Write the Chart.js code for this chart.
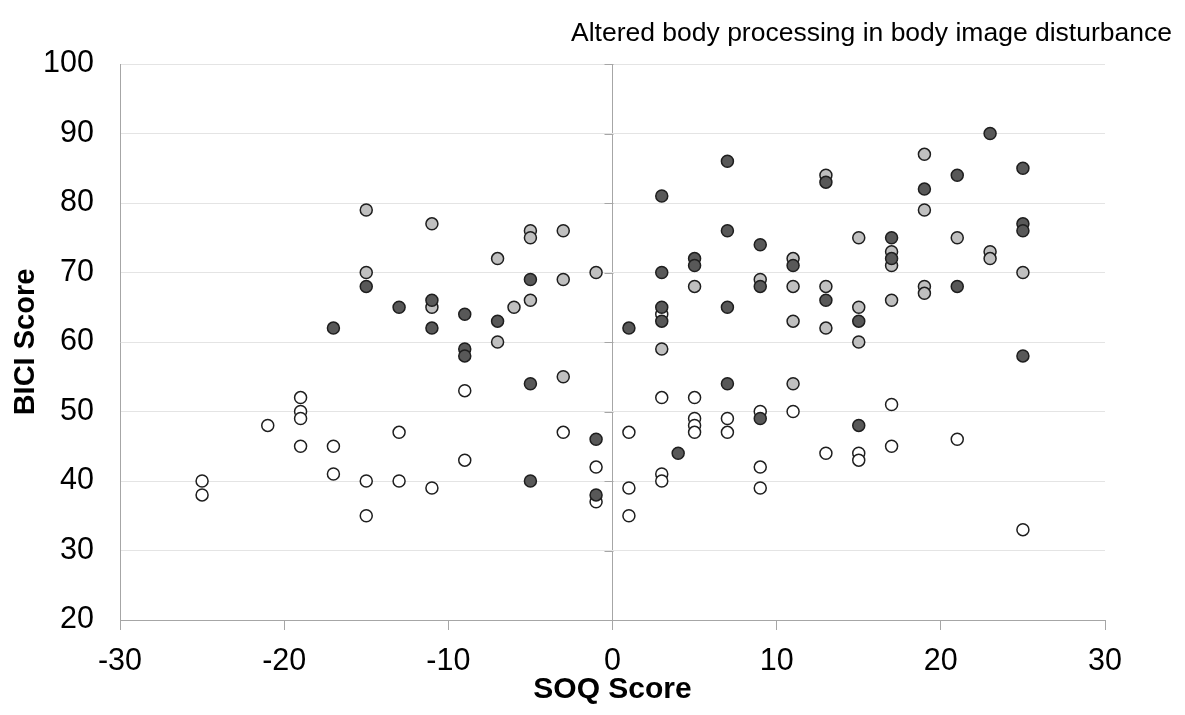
<!DOCTYPE html>
<html>
<head>
<meta charset="utf-8">
<script src="https://cdn.jsdelivr.net/npm/chart.js@4/dist/chart.umd.min.js"></script>
<style>
  html, body { margin: 0; padding: 0; background: #fff; }
  #wrap { width: 1185px; height: 715px; }
</style>
</head>
<body>
<div id="wrap"><canvas id="c" width="1185" height="715"></canvas></div>
<script>
// SOQ score (x) vs BICI score (y), three participant groups
const openX  = [-25,-25,-21,-19,-19,-19,-19,-17,-17,-15,-15,-13,-13,-11,-9,-9,-3,-1,-1,1,1,1,3,3,3,3,5,5,5,5,7,7,9,9,9,11,13,15,15,17,17,21,25];
const openY  = [40,38,48,52,50,49,45,45,41,40,35,47,40,39,53,43,47,42,37,47,39,35,64,52,41,40,52,49,48,47,49,47,50,42,39,50,44,44,43,51,45,46,33];

const lightX = [-15,-15,-11,-11,-7,-7,-6,-5,-5,-5,-3,-3,-3,-1,3,5,9,11,11,11,11,13,13,13,15,15,15,17,17,17,19,19,19,19,21,23,23,25];
const lightY = [79,70,77,65,72,60,65,76,75,66,76,69,55,70,59,68,69,72,68,63,54,84,68,62,75,65,60,73,71,66,87,79,68,67,75,73,72,70];

const darkX  = [-17,-15,-13,-11,-11,-9,-9,-9,-7,-5,-5,-5,-1,-1,1,3,3,3,3,4,5,5,7,7,7,7,9,9,9,11,13,13,15,15,17,17,19,21,21,23,25,25,25,25];
const darkY  = [62,68,65,66,62,64,59,58,63,69,54,40,46,38,62,81,70,65,63,44,72,71,86,76,65,54,74,68,49,71,83,66,63,48,75,72,82,84,68,90,85,77,76,58];

const xTicks = [-30,-20,-10,0,10,20,30];
const yTicks = [20,30,40,50,60,70,80,90,100];

const chartTitle = 'Altered body processing in body image disturbance';
const xTitle = 'SOQ Score';
const yTitle = 'BICI Score';

const FONT = '"Liberation Sans", Arial, Helvetica, sans-serif';
const AXIS_GREY = '#a6a6a6';

function pts(xs, ys) { return xs.map((x, i) => ({ x: x, y: ys[i] })); }

// small tick marks on the vertical axis that crosses at x = 0, plus the heading
const extras = {
  id: 'extras',
  afterDatasetsDraw(chart) {
    const { ctx, scales: { x, y } } = chart;
    const x0 = Math.round(x.getPixelForValue(0)) + 0.5;
    ctx.save();
    ctx.strokeStyle = AXIS_GREY;
    ctx.lineWidth = 1;
    ctx.beginPath();
    yTicks.forEach(v => {
      const py = Math.round(y.getPixelForValue(v)) + 0.5;
      ctx.moveTo(x0 - 9, py);
      ctx.lineTo(x0, py);
    });
    ctx.stroke();
    ctx.restore();
  },
  afterDraw(chart) {
    const { ctx } = chart;
    ctx.save();
    ctx.fillStyle = '#000';
    ctx.font = '26.5px ' + FONT;
    ctx.textAlign = 'right';
    ctx.textBaseline = 'middle';
    ctx.fillText(chartTitle, 1172, 34);
    ctx.restore();
  }
};

const common = { pointRadius: 6, pointHoverRadius: 6, borderWidth: 1.5, borderColor: '#1e1e1e', showLine: false };

// datasets listed first are painted last (on top)
new Chart(document.getElementById('c'), {
  type: 'scatter',
  data: {
    datasets: [
      Object.assign({ label: 'dark', data: pts(darkX, darkY), backgroundColor: '#585858' }, common),
      Object.assign({ label: 'light', data: pts(lightX, lightY), backgroundColor: '#c0c0c0' }, common),
      Object.assign({ label: 'open', data: pts(openX, openY), backgroundColor: '#ffffff' }, common)
    ]
  },
  options: {
    responsive: false,
    animation: false,
    layout: { padding: { left: 0, right: 80, top: 64, bottom: 0 } },
    plugins: { legend: { display: false }, tooltip: { enabled: false }, title: { display: false } },
    scales: {
      x: {
        type: 'linear',
        min: -30, max: 30,
        afterBuildTicks(scale) { scale.ticks = xTicks.map(v => ({ value: v })); },
        afterFit(scale) { scale.height = 95; },
        border: { display: true, color: AXIS_GREY, width: 1 },
        grid: {
          color: ctx => (ctx.tick && ctx.tick.value === 0) ? AXIS_GREY : 'rgba(0,0,0,0)',
          tickColor: AXIS_GREY,
          tickLength: 10,
          drawTicks: true
        },
        ticks: { color: '#000', font: { family: FONT, size: 30.5 }, padding: 13, maxRotation: 0 },
        title: { display: true, text: xTitle, color: '#000', font: { family: FONT, size: 30, weight: 'bold' }, padding: { top: 0, bottom: 7 } }
      },
      y: {
        type: 'linear',
        min: 20, max: 100,
        afterBuildTicks(scale) { scale.ticks = yTicks.map(v => ({ value: v })); },
        afterFit(scale) { scale.width = 120; },
        border: { display: true, color: AXIS_GREY, width: 1 },
        grid: { color: '#e4e4e4', lineWidth: 1, drawTicks: false },
        ticks: { color: '#000', font: { family: FONT, size: 30.5 }, padding: 26 },
        title: { display: true, text: yTitle, color: '#000', font: { family: FONT, size: 29, weight: 'bold' }, padding: { top: 9, bottom: 0 } }
      }
    }
  },
  plugins: [extras]
});
</script>
</body>
</html>
